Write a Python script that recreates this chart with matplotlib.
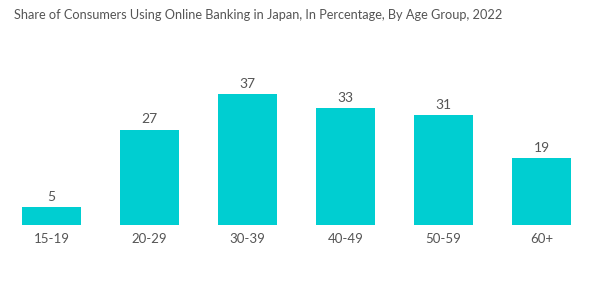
import matplotlib.pyplot as plt

# Data
age_groups = ["15-19", "20-29", "30-39", "40-49", "50-59", "60+"]
share = [5, 27, 37, 33, 31, 19]

plt.rcParams['font.family'] = ['Lato', 'DejaVu Sans']

fig = plt.figure(figsize=(6, 3.02), dpi=100)
ax = fig.add_axes([2.5 / 600, 77 / 302, 588 / 600, 159 / 302])

bars = ax.bar(range(len(age_groups)), share, width=0.6, color="#00CED1")
for i, v in enumerate(share):
    ax.text(i, v + 1.2, str(v), ha="center", va="bottom", fontsize=10, color="#555555")

ax.set_xlim(-0.5, len(age_groups) - 0.5)
ax.set_ylim(0, 45)
ax.set_xticks(range(len(age_groups)))
ax.set_xticklabels(age_groups, fontsize=9.5, color="#555555")
ax.tick_params(axis="x", length=0, pad=6)
ax.set_yticks([])
for s in ax.spines.values():
    s.set_visible(False)

fig.text(14 / 600, 1 - 15 / 302, "Share of Consumers Using Online Banking in Japan, In Percentage, By Age Group, 2022",
         fontsize=9.2, color="#555555", va="center", ha="left")

fig.savefig("out.png", dpi=100)
